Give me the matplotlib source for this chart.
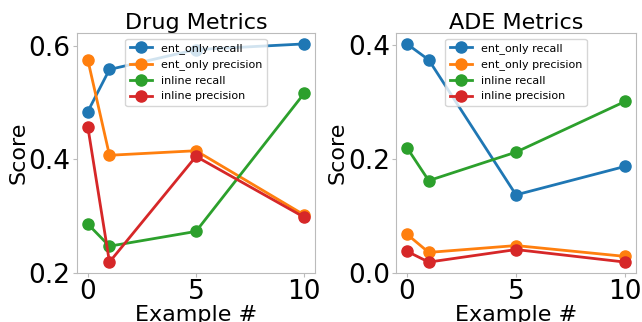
import matplotlib
matplotlib.use("Agg")
import matplotlib.pyplot as plt

examples = [0, 1, 5, 10]
series_names = ["ent_only recall", "ent_only precision", "inline recall", "inline precision"]

drug_ent_only_recall = [0.484, 0.558, 0.593, 0.603]
drug_ent_only_precision = [0.575, 0.407, 0.415, 0.302]
drug_inline_recall = [0.286, 0.247, 0.273, 0.516]
drug_inline_precision = [0.457, 0.219, 0.405, 0.298]

ade_ent_only_recall = [0.402, 0.374, 0.137, 0.187]
ade_ent_only_precision = [0.068, 0.036, 0.048, 0.029]
ade_inline_recall = [0.220, 0.162, 0.212, 0.301]
ade_inline_precision = [0.038, 0.019, 0.041, 0.019]

panels = [
    ("Drug Metrics", [drug_ent_only_recall, drug_ent_only_precision, drug_inline_recall, drug_inline_precision], [0.2, 0.4, 0.6]),
    ("ADE Metrics", [ade_ent_only_recall, ade_ent_only_precision, ade_inline_recall, ade_inline_precision], [0.0, 0.2, 0.4]),
]

fig = plt.figure(figsize=(6.42, 3.22), dpi=100)
W, H = 642, 322
boxes = [(77, 33, 315, 273), (396, 33, 636, 273)]
for (title, series, yt), (l, t, r, b) in zip(panels, boxes):
    ax = fig.add_axes([l / W, 1 - b / H, (r - l) / W, (b - t) / H])
    for name, vals in zip(series_names, series):
        ax.plot(examples, vals, marker="o", markersize=8, linewidth=2, label=name)
    ax.set_title(title, fontsize=16, pad=3)
    ax.set_xlabel("Example #", fontsize=16, labelpad=0)
    ax.set_ylabel("Score", fontsize=16, labelpad=0)
    ax.set_xticks([0, 5, 10])
    ax.set_yticks(yt)
    ax.tick_params(axis="both", labelsize=19, length=3, pad=1.5, color="#bbbbbb")
    for s in ax.spines.values():
        s.set_color("#bbbbbb")
    ax.legend(loc="upper center", fontsize=8)

fig.savefig("out.png", dpi=100)
